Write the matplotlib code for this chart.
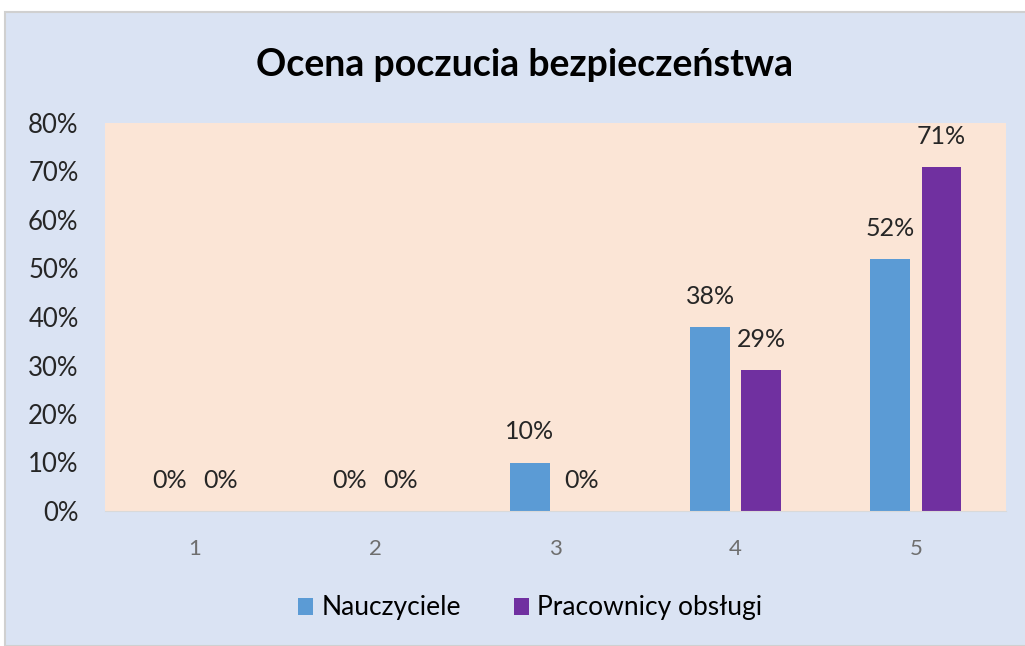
import numpy as np
import matplotlib.pyplot as plt
from matplotlib.patches import Rectangle

plt.rcParams['font.family'] = ['Lato', 'DejaVu Sans']

# dane
categories = ['1', '2', '3', '4', '5']
nauczyciele = [0, 0, 10, 38, 52]
pracownicy = [0, 0, 0, 29, 71]
series_names = ['Nauczyciele', 'Pracownicy obsługi']
yticks = [0, 10, 20, 30, 40, 50, 60, 70, 80]

fig = plt.figure(figsize=(10.25, 6.46), dpi=100)
fig.patch.set_facecolor('white')

# tło wykresu
bg = Rectangle((5 / 1025, 0), 1.0, (646 - 12) / 646, transform=fig.transFigure,
               facecolor='#DAE3F3', edgecolor='#D0D0D0', linewidth=1.5, zorder=-10)
fig.patches.append(bg)

ax = fig.add_axes([105 / 1025, (646 - 511) / 646, 901 / 1025, 388 / 646])
ax.set_facecolor('#FBE5D6')
ax.set_zorder(2)

x = np.arange(len(categories))
w = 0.22
off = 0.142
b1 = ax.bar(x - off, nauczyciele, w, color='#5B9BD5', label=series_names[0])
b2 = ax.bar(x + off, pracownicy, w, color='#7030A0', label=series_names[1])

for bars, vals in [(b1, nauczyciele), (b2, pracownicy)]:
    for rect, v in zip(bars, vals):
        ax.annotate(f'{v}%', (rect.get_x() + rect.get_width() / 2, v),
                    xytext=(0, 22), textcoords='offset points',
                    ha='center', va='center', fontsize=18, color='#262626')

ax.set_xlim(-0.5, len(categories) - 0.5)
ax.set_ylim(0, 80)
ax.set_xticks(x)
ax.set_xticklabels(categories, fontsize=16, color='#6E6E6E')
ax.set_yticks(yticks)
ax.set_yticklabels([f'{t}%' for t in yticks], fontsize=18.5, color='#262626')
ax.tick_params(length=0)
ax.tick_params(axis='x', pad=20)
ax.tick_params(axis='y', pad=19)
for s in ['top', 'right', 'left']:
    ax.spines[s].set_visible(False)
ax.spines['bottom'].set_color('#D9D9D9')

fig.text(525 / 1025, 1 - 65 / 646, 'Ocena poczucia bezpieczeństwa',
         ha='center', va='center', fontsize=27, fontweight='bold', color='black')

fig.legend(handles=[b1, b2], labels=series_names, loc='center',
           bbox_to_anchor=(530 / 1025, 1 - 608 / 646), ncol=2, frameon=False,
           fontsize=19, handlelength=0.6, handleheight=0.6, columnspacing=2.0,
           handletextpad=0.3)

fig.savefig('out.png', dpi=100)
